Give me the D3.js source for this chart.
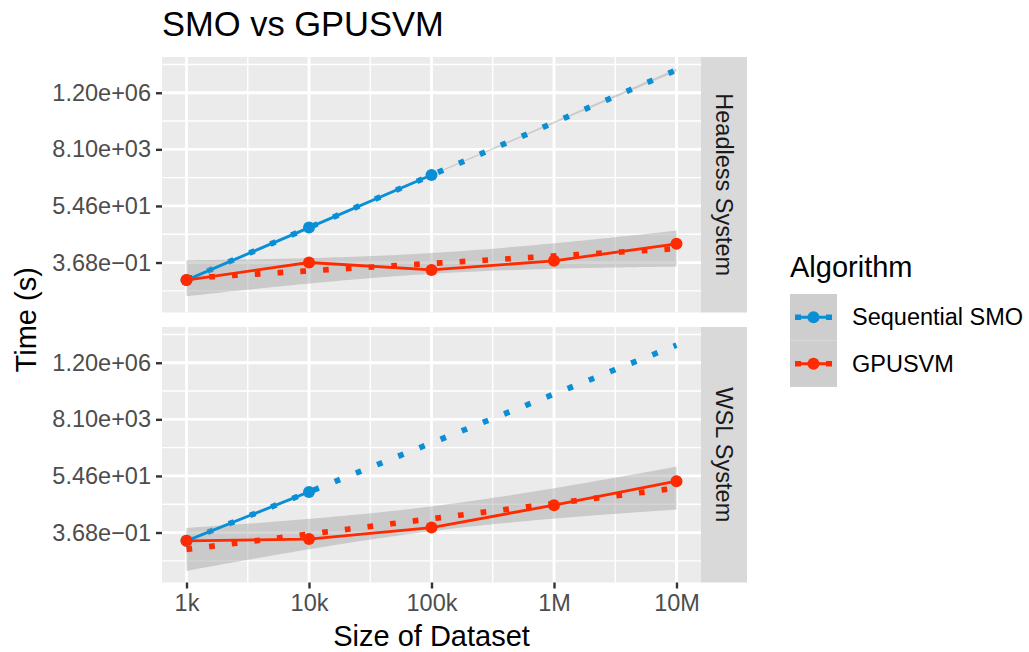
<!DOCTYPE html>
<html>
<head>
<meta charset="utf-8">
<script src="https://cdn.jsdelivr.net/npm/d3@7"></script>
<style>
  body { margin: 0; background: #fff; }
  svg { display: block; font-family: "Liberation Sans", Arial, sans-serif; }
</style>
</head>
<body>
<svg id="chart" width="1029" height="652"></svg>
<script>
// dataset sizes and axis labels
var sizes = [1e3, 1e4, 1e5, 1e6, 1e7];
var xTickLabels = ["1k", "10k", "100k", "1M", "10M"];
var yTickValues = [0.3679, 54.598, 8103.08, 1202604.3];
var yTickLabels = ["3.68e\u221201", "5.46e+01", "8.10e+03", "1.20e+06"];
var systems = ["Headless System", "WSL System"];
var algorithms = ["Sequential SMO", "GPUSVM"];
var colors = ["#0A8ED6", "#FF2A00"];

// run time in seconds (SMO was only run on the smaller sets)
var headlessSmo = [0.0781, 8.044, 837.5];
var headlessGpu = [0.0781, 0.368, 0.192, 0.427, 1.916];
var wslSmo = [0.177, 13.33];
var wslGpu = [0.177, 0.206, 0.571, 4.137, 34.47];

// 97.5% t quantiles for the lm confidence band
var tQuantile = { 1: 12.706, 2: 4.303, 3: 3.182 };

var series = [
  { panel: 0, algo: 0, values: headlessSmo },
  { panel: 0, algo: 1, values: headlessGpu },
  { panel: 1, algo: 0, values: wslSmo },
  { panel: 1, algo: 1, values: wslGpu }
];

var panelLeft = 162, panelRight = 701, stripW = 46;
var panelTops = [57, 327], panelH = 255.5;
var small = 23.5, big = 29;

// linear fit of ln(time) on log10(size), like geom_smooth(method = "lm", fullrange = TRUE)
function fitLm(s) {
  var xs = s.values.map(function (v, i) { return Math.log10(sizes[i]); });
  var ys = s.values.map(function (v) { return Math.log(v); });
  var n = xs.length;
  var mx = d3.mean(xs), my = d3.mean(ys);
  var sxx = d3.sum(xs, function (x) { return (x - mx) * (x - mx); });
  var sxy = d3.sum(xs, function (x, i) { return (x - mx) * (ys[i] - my); });
  var slope = sxy / sxx;
  var icpt = my - slope * mx;
  var df = n - 2;
  var sse = d3.sum(xs, function (x, i) {
    var r = ys[i] - (icpt + slope * x);
    return r * r;
  });
  var sd = df > 0 ? Math.sqrt(sse / df) : 0;
  var t = df > 0 ? tQuantile[df] : 0;
  var x0 = Math.log10(sizes[0]), x1 = Math.log10(sizes[sizes.length - 1]);
  return {
    band: df > 0,
    pts: d3.range(80).map(function (k) {
      var x = x0 + (x1 - x0) * k / 79;
      var fit = icpt + slope * x;
      var se = sd * Math.sqrt(1 / n + (x - mx) * (x - mx) / sxx);
      return { x: Math.pow(10, x), fit: fit, lo: fit - t * se, hi: fit + t * se };
    })
  };
}

series.forEach(function (s) {
  s.points = s.values.map(function (v, i) { return { size: sizes[i], time: v }; });
  s.smooth = fitLm(s);
});

// shared y range over points and bands, expanded 5% like ggplot
var lnAll = [];
series.forEach(function (s) {
  s.values.forEach(function (v) { lnAll.push(Math.log(v)); });
  s.smooth.pts.forEach(function (p) { lnAll.push(p.lo, p.hi); });
});
var lnExt = d3.extent(lnAll);
var lnPad = (lnExt[1] - lnExt[0]) * 0.05;

var xLog = [Math.log10(sizes[0]), Math.log10(sizes[sizes.length - 1])];
var xPad = (xLog[1] - xLog[0]) * 0.05;
var x = d3.scaleLog()
  .domain([Math.pow(10, xLog[0] - xPad), Math.pow(10, xLog[1] + xPad)])
  .range([panelLeft, panelRight]);

function yScale(top) {
  return d3.scaleLog().base(Math.E)
    .domain([Math.exp(lnExt[0] - lnPad), Math.exp(lnExt[1] + lnPad)])
    .range([top + panelH, top]);
}

// minor breaks halfway between majors in log space
function minorBreaks(majors, base, lo, hi) {
  var lm = majors.map(function (m) { return Math.log(m) / Math.log(base); });
  var step = lm[1] - lm[0];
  var out = [lm[0] - step / 2];
  lm.forEach(function (m) { out.push(m + step / 2); });
  return out.filter(function (m) { return m > lo && m < hi; })
    .map(function (m) { return Math.pow(base, m); });
}

var svg = d3.select("#chart");
svg.append("rect").attr("width", 1029).attr("height", 652).attr("fill", "#fff");

svg.append("text")
  .attr("x", 162).attr("y", 36)
  .attr("font-size", 34.5).attr("fill", "#000")
  .text("SMO vs GPUSVM");

var defs = svg.append("defs");

panelTops.forEach(function (top, p) {
  var y = yScale(top);
  var g = svg.append("g");

  g.append("rect")
    .attr("x", panelLeft).attr("y", top)
    .attr("width", panelRight - panelLeft).attr("height", panelH)
    .attr("fill", "#EBEBEB");

  var yMinor = minorBreaks(yTickValues, Math.E, lnExt[0] - lnPad, lnExt[1] + lnPad);
  var xMinor = minorBreaks(sizes, 10, xLog[0] - xPad, xLog[1] + xPad);

  g.selectAll(".ymin").data(yMinor).enter().append("line")
    .attr("x1", panelLeft).attr("x2", panelRight)
    .attr("y1", y).attr("y2", y)
    .attr("stroke", "#fff").attr("stroke-width", 1.4);
  g.selectAll(".xmin").data(xMinor).enter().append("line")
    .attr("x1", x).attr("x2", x)
    .attr("y1", top).attr("y2", top + panelH)
    .attr("stroke", "#fff").attr("stroke-width", 1.4);
  g.selectAll(".ymaj").data(yTickValues).enter().append("line")
    .attr("x1", panelLeft).attr("x2", panelRight)
    .attr("y1", y).attr("y2", y)
    .attr("stroke", "#fff").attr("stroke-width", 2.8);
  g.selectAll(".xmaj").data(sizes).enter().append("line")
    .attr("x1", x).attr("x2", x)
    .attr("y1", top).attr("y2", top + panelH)
    .attr("stroke", "#fff").attr("stroke-width", 2.8);

  defs.append("clipPath").attr("id", "clip" + p)
    .append("rect")
    .attr("x", panelLeft).attr("y", top)
    .attr("width", panelRight - panelLeft).attr("height", panelH);

  var plot = g.append("g").attr("clip-path", "url(#clip" + p + ")");
  var mine = series.filter(function (s) { return s.panel === p; });

  // smooth layer: band then dotted fit, per group
  mine.forEach(function (s) {
    if (s.smooth.band) {
      plot.append("path")
        .datum(s.smooth.pts)
        .attr("d", d3.area()
          .x(function (d) { return x(d.x); })
          .y0(function (d) { return y(Math.exp(d.lo)); })
          .y1(function (d) { return y(Math.exp(d.hi)); }))
        .attr("fill", "#999999").attr("fill-opacity", 0.4);
    }
    plot.append("path")
      .datum(s.smooth.pts)
      .attr("d", d3.line()
        .x(function (d) { return x(d.x); })
        .y(function (d) { return y(Math.exp(d.fit)); }))
      .attr("fill", "none")
      .attr("stroke", colors[s.algo])
      .attr("stroke-width", 5.7)
      .attr("stroke-dasharray", "5.7,17.1");
  });

  mine.forEach(function (s) {
    plot.append("path")
      .datum(s.points)
      .attr("d", d3.line()
        .x(function (d) { return x(d.size); })
        .y(function (d) { return y(d.time); }))
      .attr("fill", "none")
      .attr("stroke", colors[s.algo])
      .attr("stroke-width", 2.85);
  });

  mine.forEach(function (s) {
    plot.selectAll(null).data(s.points).enter().append("circle")
      .attr("cx", function (d) { return x(d.size); })
      .attr("cy", function (d) { return y(d.time); })
      .attr("r", 6)
      .attr("fill", colors[s.algo]);
  });

  // y axis
  var yAxis = g.append("g")
    .attr("transform", "translate(" + panelLeft + ",0)")
    .call(d3.axisLeft(y).tickValues(yTickValues)
      .tickFormat(function (d, i) { return yTickLabels[i]; })
      .tickSize(6).tickPadding(5));
  yAxis.select(".domain").remove();
  yAxis.selectAll("line").attr("stroke", "#333").attr("stroke-width", 2.4);
  yAxis.selectAll("text")
    .attr("font-family", "Liberation Sans, Arial, sans-serif")
    .attr("font-size", small).attr("fill", "#4D4D4D");

  // strip
  g.append("rect")
    .attr("x", panelRight).attr("y", top)
    .attr("width", stripW).attr("height", panelH)
    .attr("fill", "#D9D9D9");
  g.append("text")
    .attr("transform", "translate(" + (panelRight + stripW / 2) + "," + (top + panelH / 2) + ") rotate(90)")
    .attr("text-anchor", "middle").attr("dy", "0.35em")
    .attr("font-size", small).attr("fill", "#1A1A1A")
    .text(systems[p]);

  if (p === panelTops.length - 1) {
    var xAxis = g.append("g")
      .attr("transform", "translate(0," + (top + panelH) + ")")
      .call(d3.axisBottom(x).tickValues(sizes)
        .tickFormat(function (d, i) { return xTickLabels[i]; })
        .tickSize(6).tickPadding(6));
    xAxis.select(".domain").remove();
    xAxis.selectAll("line").attr("stroke", "#333").attr("stroke-width", 2.4);
    xAxis.selectAll("text")
      .attr("font-family", "Liberation Sans, Arial, sans-serif")
      .attr("font-size", small).attr("fill", "#4D4D4D");
  }
});

// axis titles
svg.append("text")
  .attr("x", (panelLeft + panelRight) / 2).attr("y", 646)
  .attr("text-anchor", "middle").attr("font-size", big)
  .text("Size of Dataset");
svg.append("text")
  .attr("transform", "translate(36," + ((panelTops[0] + panelTops[1] + panelH) / 2) + ") rotate(-90)")
  .attr("text-anchor", "middle").attr("font-size", big)
  .text("Time (s)");

// legend
var legend = svg.append("g").attr("transform", "translate(790,0)");
legend.append("text")
  .attr("x", 0).attr("y", 277)
  .attr("font-size", big)
  .text("Algorithm");

var keyH = 46.5, keyW = 47, keyTop = 294;
var keys = legend.selectAll(".key").data(algorithms).enter().append("g")
  .attr("transform", function (d, i) { return "translate(0," + (keyTop + i * keyH) + ")"; });
keys.append("rect")
  .attr("width", keyW).attr("height", keyH).attr("fill", "#F2F2F2");
keys.append("rect")
  .attr("width", keyW).attr("height", keyH)
  .attr("fill", "#999999").attr("fill-opacity", 0.4);
keys.append("line")
  .attr("x1", 5).attr("x2", 42).attr("y1", keyH / 2).attr("y2", keyH / 2)
  .attr("stroke", function (d, i) { return colors[i]; })
  .attr("stroke-width", 5.7)
  .attr("stroke-dasharray", "6,25");
keys.append("line")
  .attr("x1", 5).attr("x2", 42).attr("y1", keyH / 2).attr("y2", keyH / 2)
  .attr("stroke", function (d, i) { return colors[i]; })
  .attr("stroke-width", 2.85);
keys.append("circle")
  .attr("cx", keyW / 2).attr("cy", keyH / 2).attr("r", 6)
  .attr("fill", function (d, i) { return colors[i]; });
keys.append("text")
  .attr("x", 62).attr("y", keyH / 2).attr("dy", "0.35em")
  .attr("font-size", small)
  .text(function (d) { return d; });
</script>
</body>
</html>
